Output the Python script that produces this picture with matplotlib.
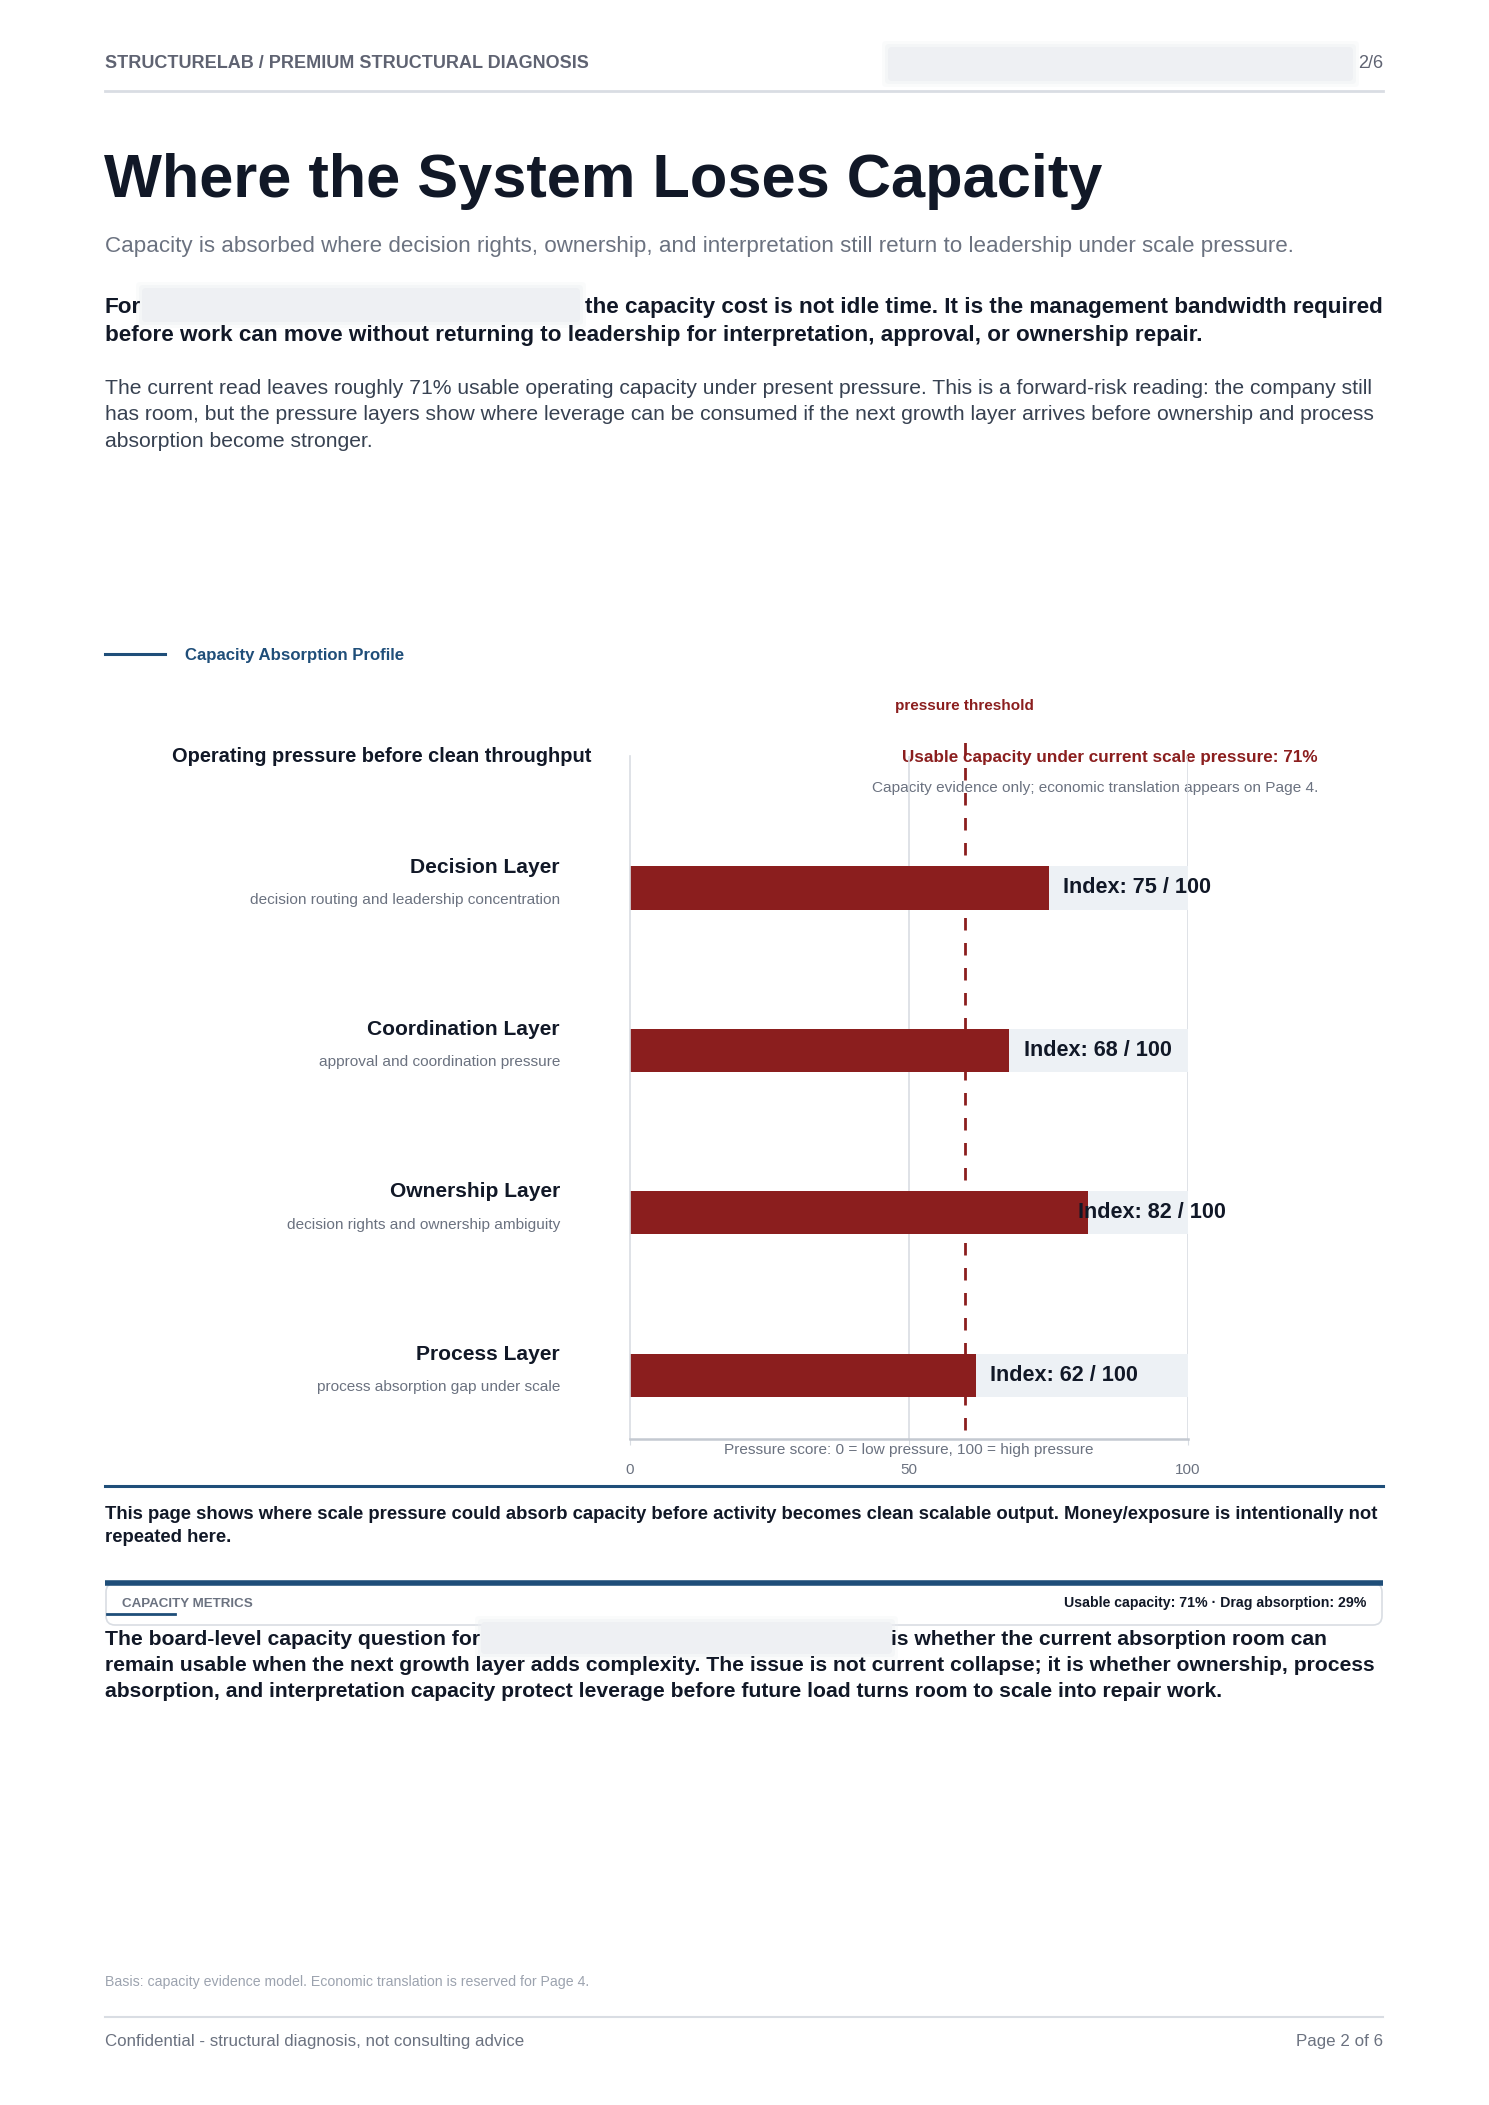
import matplotlib
matplotlib.use("Agg")
import matplotlib.pyplot as plt
import matplotlib.patches as patches
import matplotlib.transforms as mtransforms

plt.rcParams['font.family'] = ['Liberation Sans', 'DejaVu Sans']

# chart data
layers = ['Decision Layer', 'Coordination Layer', 'Ownership Layer', 'Process Layer']
layer_notes = ['decision routing and leadership concentration',
               'approval and coordination pressure',
               'decision rights and ownership ambiguity',
               'process absorption gap under scale']
scores = [75, 68, 82, 62]
threshold = 60
x_ticks = [0, 50, 100]

# colours
RED = '#8b1e1e'
NAVY = '#1f4e79'
DARK = '#111827'
GRAY = '#6b7280'
LIGHT = '#d9dde3'

W, H = 1489, 2105
fig = plt.figure(figsize=(W / 100, H / 100), dpi=100)

# page layer in pixel coordinates
page = fig.add_axes([0, 0, 1, 1])
page.set_xlim(0, W)
page.set_ylim(H, 0)
page.axis('off')


def redact(x0, y0, x1, y1):
    # soft grey box standing in for the blurred name
    for pad, a in [(6, 0.25), (3, 0.45), (0, 1.0)]:
        page.add_patch(patches.FancyBboxPatch((x0 - pad, y0 - pad), x1 - x0 + 2 * pad, y1 - y0 + 2 * pad,
                                              boxstyle='round,pad=0,rounding_size=4', facecolor='#eef0f3',
                                              edgecolor='none', alpha=a))


# header
page.text(105, 68, 'STRUCTURELAB / PREMIUM STRUCTURAL DIAGNOSIS', fontsize=13, fontweight='bold',
          color='#5f6372', va='baseline')
redact(888, 47, 1353, 81)
page.text(1383, 68, '2/6', fontsize=13, color='#5f6372', ha='right', va='baseline')
page.plot([105, 1383], [91, 91], color=LIGHT, lw=2)

# title block
page.text(104, 197, 'Where the System Loses Capacity', fontsize=44.2, fontweight='bold', color=DARK, va='baseline')
page.text(105, 252, 'Capacity is absorbed where decision rights, ownership, and interpretation still return to '
          'leadership under scale pressure.', fontsize=16.1, color=GRAY, va='baseline')

page.text(105, 313, 'For', fontsize=16.2, fontweight='bold', color=DARK, va='baseline')
redact(142, 288, 580, 322)
page.text(1383, 313, 'the capacity cost is not idle time. It is the management bandwidth required',
          fontsize=16.2, fontweight='bold', color=DARK, va='baseline', ha='right')
page.text(105, 341, 'before work can move without returning to leadership for interpretation, approval, or ownership repair.',
          fontsize=16.2, fontweight='bold', color=DARK, va='baseline')

para = ['The current read leaves roughly 71% usable operating capacity under present pressure. This is a forward-risk reading: the company still',
        'has room, but the pressure layers show where leverage can be consumed if the next growth layer arrives before ownership and process',
        'absorption become stronger.']
for i, line in enumerate(para):
    page.text(105, 394 + i * 26.5, line, fontsize=15.2, color='#374151', va='baseline')

# section label
page.plot([105, 165], [654, 654], color=NAVY, lw=2.2)
page.text(185, 660, 'Capacity Absorption Profile', fontsize=12.1, fontweight='bold', color=NAVY, va='baseline')

# chart captions
page.text(964, 710, 'pressure threshold', fontsize=11, fontweight='bold', color=RED, ha='center', va='baseline')
page.text(591, 762, 'Operating pressure before clean throughput', fontsize=14.4, fontweight='bold', color=DARK,
          ha='right', va='baseline')
page.text(1318, 762, 'Usable capacity under current scale pressure: 71%', fontsize=12.3, fontweight='bold', color=RED,
          ha='right', va='baseline')
page.text(1318, 792, 'Capacity evidence only; economic translation appears on Page 4.', fontsize=11.05, color=GRAY,
          ha='right', va='baseline')

# bar chart
ax_l, ax_r, ax_t, ax_b = 630, 1188, 756, 1439
ax = fig.add_axes([ax_l / W, 1 - ax_b / H, (ax_r - ax_l) / W, (ax_b - ax_t) / H])
ax.patch.set_alpha(0)
ypos = list(range(len(layers)))
ax.barh(ypos, [100] * len(layers), height=0.265, color='#edf1f5', zorder=1)
ax.barh(ypos, scores, height=0.265, color=RED, zorder=2)
ax.set_xlim(0, 100)
ax.set_ylim(3.394, -0.813)
for xv in x_ticks[1:]:
    ax.axvline(xv, color=LIGHT, lw=1.2, zorder=0)
ax.axvline(threshold, ymin=0.013, ymax=1.026, color=RED, lw=2, ls=(0, (4.5, 4.5)), zorder=3, clip_on=False)

for sp in ['top', 'right']:
    ax.spines[sp].set_visible(False)
ax.spines['left'].set_color(LIGHT)
ax.spines['left'].set_linewidth(1.2)
ax.spines['bottom'].set_color('#c4c9d1')
ax.spines['bottom'].set_linewidth(1.8)
ax.set_yticks([])
ax.set_xticks(x_ticks)
ax.tick_params(axis='x', length=4, color=LIGHT, pad=13, labelsize=11, labelcolor=GRAY)
ax.text(0.5, -0.0165, 'Pressure score: 0 = low pressure, 100 = high pressure', transform=ax.transAxes,
        fontsize=11.05, color=GRAY, ha='center', va='center')

label_tr = mtransforms.blended_transform_factory(ax.transAxes, ax.transData)
for i, (name, note, v) in enumerate(zip(layers, layer_notes, scores)):
    ax.annotate(name, xy=(-0.1255, i), xycoords=label_tr, xytext=(0, 11), textcoords='offset points',
                ha='right', va='baseline', fontsize=15.1, fontweight='bold', color=DARK, annotation_clip=False)
    ax.annotate(note, xy=(-0.1255, i), xycoords=label_tr, xytext=(0, -11.5), textcoords='offset points',
                ha='right', va='baseline', fontsize=11.1, color=GRAY, annotation_clip=False)
    ax.text(min(v + 2.6, 80.3), i, f'Index: {v} / 100', va='center', ha='left', fontsize=15.6,
            fontweight='bold', color=DARK, zorder=4)

# page note
page.plot([105, 1383], [1486, 1486], color=NAVY, lw=2.2)
page.text(105, 1519, 'This page shows where scale pressure could absorb capacity before activity becomes clean scalable '
          'output. Money/exposure is intentionally not', fontsize=13.3, fontweight='bold', color=DARK, va='baseline')
page.text(105, 1542, 'repeated here.', fontsize=13.3, fontweight='bold', color=DARK, va='baseline')

# metrics box
page.add_patch(patches.FancyBboxPatch((106, 1583), 1276, 42, boxstyle='round,pad=0,rounding_size=9',
                                      facecolor='white', edgecolor=LIGHT, lw=1.2))
page.plot([105, 1383], [1583, 1583], color=NAVY, lw=4, solid_capstyle='butt')
page.text(122, 1607, 'CAPACITY METRICS', fontsize=9.6, fontweight='bold', color=GRAY, va='baseline')
page.plot([107, 175], [1614, 1614], color=NAVY, lw=2)
page.text(1366, 1607, 'Usable capacity: 71% \u00b7 Drag absorption: 29%', fontsize=10.2, fontweight='bold',
          color=DARK, ha='right', va='baseline')

# board paragraph
page.text(105, 1645, 'The board-level capacity question for', fontsize=15.2, fontweight='bold', color=DARK, va='baseline')
redact(481, 1622, 892, 1654)
page.text(891, 1645, 'is whether the current absorption room can', fontsize=15.2, fontweight='bold', color=DARK,
          va='baseline')
page.text(105, 1671, 'remain usable when the next growth layer adds complexity. The issue is not current collapse; it is '
          'whether ownership, process', fontsize=15.2, fontweight='bold', color=DARK, va='baseline')
page.text(105, 1697, 'absorption, and interpretation capacity protect leverage before future load turns room to scale '
          'into repair work.', fontsize=15.2, fontweight='bold', color=DARK, va='baseline')

# footer
page.text(105, 1986, 'Basis: capacity evidence model. Economic translation is reserved for Page 4.', fontsize=10.2,
          color='#9ca3af', va='baseline')
page.plot([105, 1383], [2017, 2017], color=LIGHT, lw=1.5)
page.text(105, 2046, 'Confidential - structural diagnosis, not consulting advice', fontsize=12.2, color=GRAY,
          va='baseline')
page.text(1383, 2046, 'Page 2 of 6', fontsize=12.2, color=GRAY, ha='right', va='baseline')

fig.savefig('out.png', dpi=100, facecolor='white')
